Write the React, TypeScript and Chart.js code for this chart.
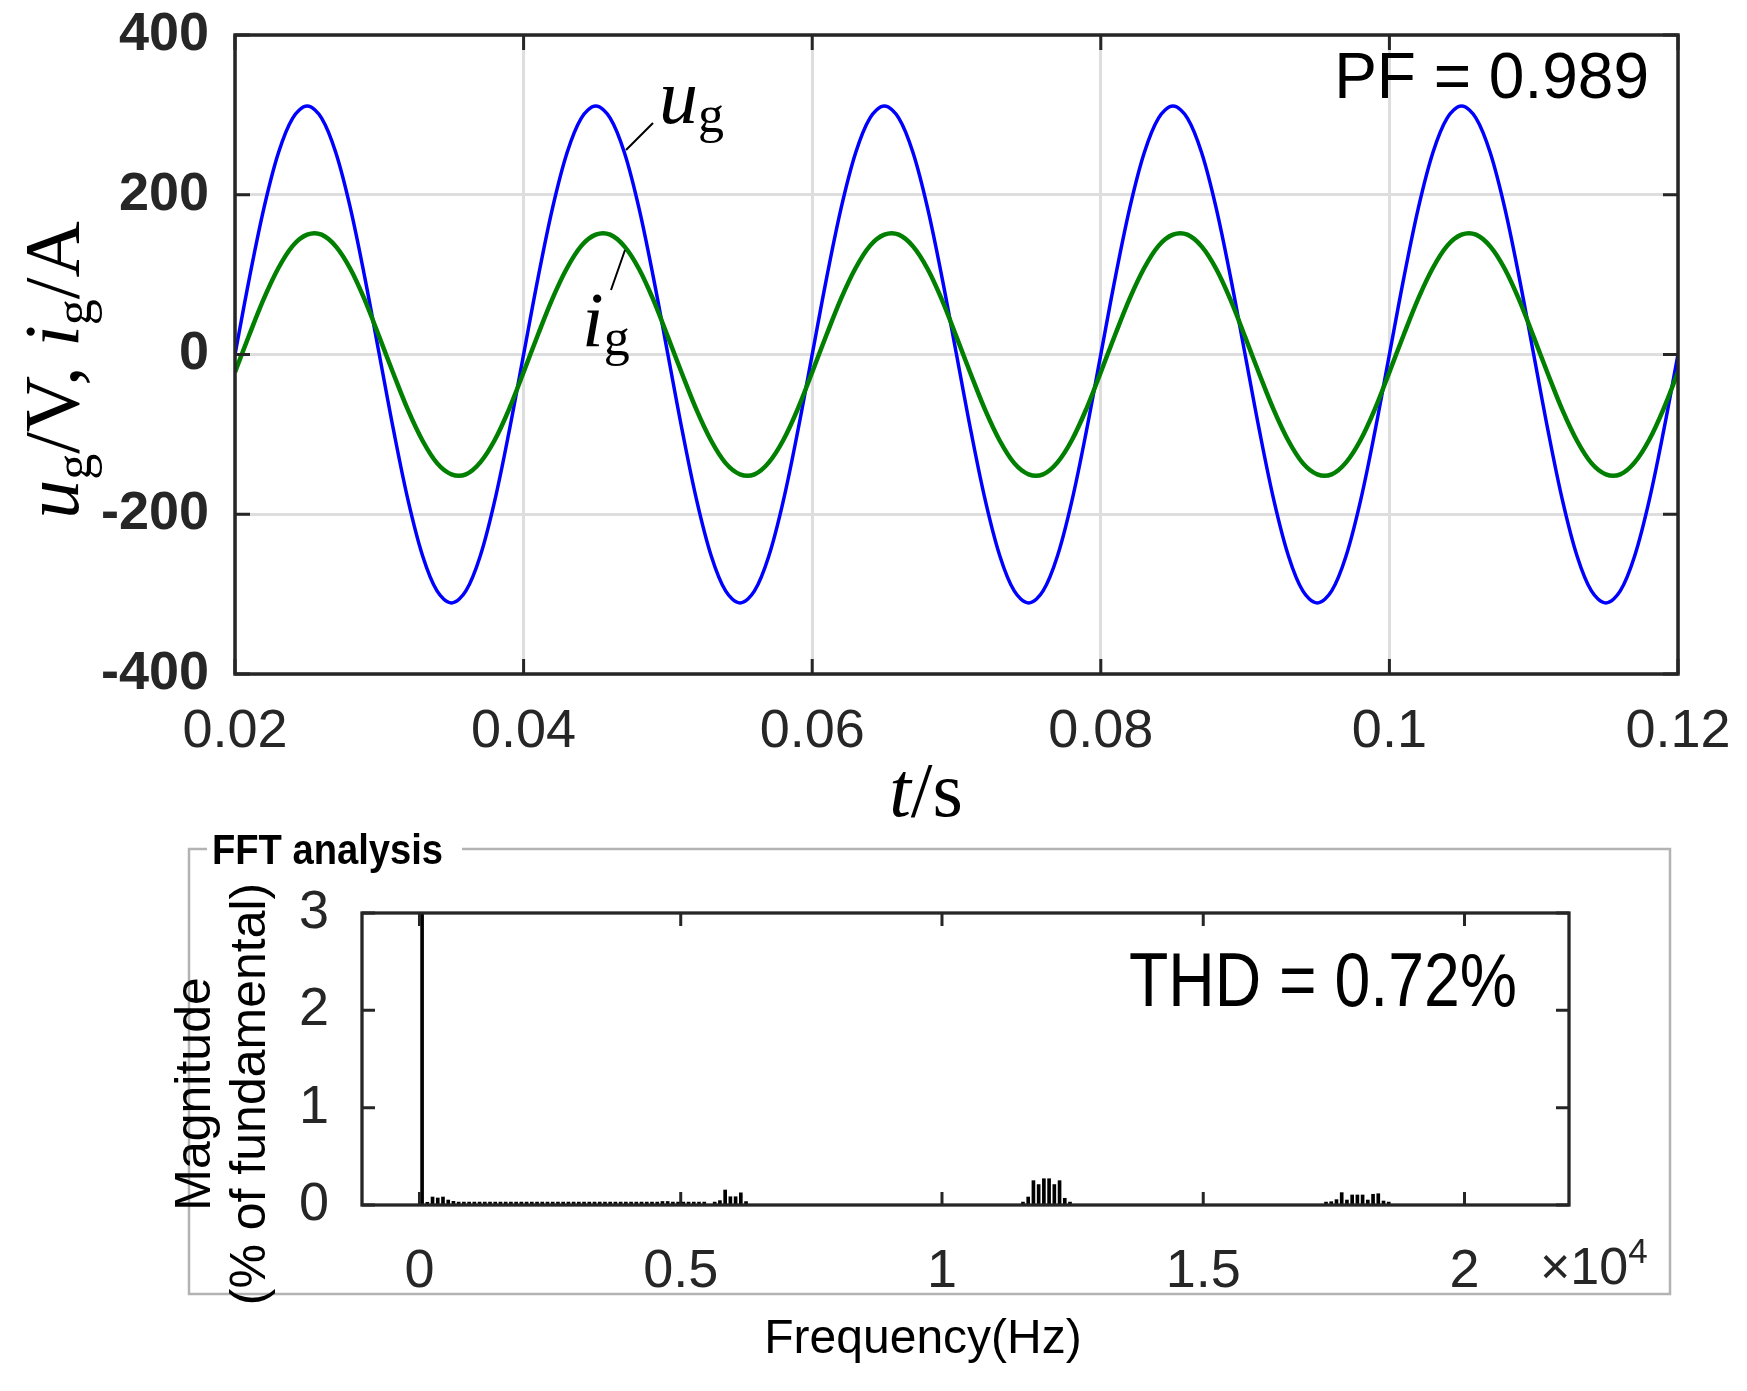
import React, { useEffect, useRef } from 'react';
import { Chart, registerables } from 'chart.js';

Chart.register(...registerables);

const SANS = '"Liberation Sans", Arial, sans-serif';
const SERIF = '"Liberation Serif", "Times New Roman", serif';

// grid voltage / current, sampled every 1 ms
const timeS = [
  0.020, 0.021, 0.022, 0.023, 0.024, 0.025, 0.026, 0.027, 0.028, 0.029,
  0.030, 0.031, 0.032, 0.033, 0.034, 0.035, 0.036, 0.037, 0.038, 0.039,
  0.040, 0.041, 0.042, 0.043, 0.044, 0.045, 0.046, 0.047, 0.048, 0.049,
  0.050, 0.051, 0.052, 0.053, 0.054, 0.055, 0.056, 0.057, 0.058, 0.059,
  0.060, 0.061, 0.062, 0.063, 0.064, 0.065, 0.066, 0.067, 0.068, 0.069,
  0.070, 0.071, 0.072, 0.073, 0.074, 0.075, 0.076, 0.077, 0.078, 0.079,
  0.080, 0.081, 0.082, 0.083, 0.084, 0.085, 0.086, 0.087, 0.088, 0.089,
  0.090, 0.091, 0.092, 0.093, 0.094, 0.095, 0.096, 0.097, 0.098, 0.099,
  0.100, 0.101, 0.102, 0.103, 0.104, 0.105, 0.106, 0.107, 0.108, 0.109,
  0.110, 0.111, 0.112, 0.113, 0.114, 0.115, 0.116, 0.117, 0.118, 0.119,
  0.120,
];

const gridVoltage = [
  0, 96, 183, 252, 296, 311, 296, 252, 183, 96,
  0, -96, -183, -252, -296, -311, -296, -252, -183, -96,
  0, 96, 183, 252, 296, 311, 296, 252, 183, 96,
  0, -96, -183, -252, -296, -311, -296, -252, -183, -96,
  0, 96, 183, 252, 296, 311, 296, 252, 183, 96,
  0, -96, -183, -252, -296, -311, -296, -252, -183, -96,
  0, 96, 183, 252, 296, 311, 296, 252, 183, 96,
  0, -96, -183, -252, -296, -311, -296, -252, -183, -96,
  0, 96, 183, 252, 296, 311, 296, 252, 183, 96,
  0, -96, -183, -252, -296, -311, -296, -252, -183, -96,
  0,
];

const gridCurrent = [
  -22, 25, 70, 108, 136, 150, 150, 135, 107, 68,
  22, -25, -70, -108, -136, -150, -150, -135, -107, -68,
  -22, 25, 70, 108, 136, 150, 150, 135, 107, 68,
  22, -25, -70, -108, -136, -150, -150, -135, -107, -68,
  -22, 25, 70, 108, 136, 150, 150, 135, 107, 68,
  22, -25, -70, -108, -136, -150, -150, -135, -107, -68,
  -22, 25, 70, 108, 136, 150, 150, 135, 107, 68,
  22, -25, -70, -108, -136, -150, -150, -135, -107, -68,
  -22, 25, 70, 108, 136, 150, 150, 135, 107, 68,
  22, -25, -70, -108, -136, -150, -150, -135, -107, -68,
  -22,
];

const timeTicks = [0.02, 0.04, 0.06, 0.08, 0.1, 0.12];
const waveTicks = [-400, -200, 0, 200, 400];

// FFT of i_g, % of the 50 Hz fundamental
const harmonicHz = [
  50, 150, 250, 350, 450, 550, 650, 750,
  850, 950, 1050, 1150, 1250, 1350, 1450, 1550, 1650, 1750,
  1850, 1950, 2050, 2150, 2250, 2350, 2450, 2550, 2650, 2750,
  2850, 2950, 3050, 3150, 3250, 3350, 3450, 3550, 3650, 3750,
  3850, 3950, 4050, 4150, 4250, 4350, 4450, 4550,
  4650, 4750, 4850, 4950, 5050, 5150, 5250, 5350, 5450,
  5650, 5750, 5850, 5950, 6050, 6150, 6250,
  11550, 11650, 11750, 11850, 11950, 12050, 12150, 12250, 12350, 12450,
  17350, 17450, 17550, 17650, 17750, 17850, 17950, 18050, 18150, 18250, 18350, 18450, 18550,
];

const harmonicPct = [
  100, 0.028, 0.082, 0.072, 0.082, 0.051, 0.038, 0.03,
  0.03, 0.03, 0.03, 0.03, 0.03, 0.03, 0.03, 0.03, 0.03, 0.03,
  0.03, 0.03, 0.03, 0.03, 0.03, 0.03, 0.03, 0.03, 0.03, 0.03,
  0.03, 0.03, 0.03, 0.03, 0.03, 0.03, 0.03, 0.03, 0.03, 0.03,
  0.03, 0.03, 0.03, 0.03, 0.03, 0.03, 0.03, 0.03,
  0.036, 0.036, 0.03, 0.03, 0.03, 0.03, 0.03, 0.03, 0.03,
  0.03, 0.045, 0.154, 0.085, 0.085, 0.125, 0.035,
  0.03, 0.082, 0.25, 0.21, 0.27, 0.27, 0.21, 0.25, 0.069, 0.03,
  0.03, 0.034, 0.055, 0.127, 0.051, 0.103, 0.103, 0.103, 0.051, 0.11, 0.116, 0.041, 0.03,
];

const freqTicks = [0, 5000, 10000, 15000, 20000];
const magTicks = [0, 1, 2, 3];

type Run = { text: string; font: string; dy?: number };

function runsWidth(ctx: CanvasRenderingContext2D, runs: Run[]) {
  let w = 0;
  for (const r of runs) {
    ctx.font = r.font;
    w += ctx.measureText(r.text).width;
  }
  return w;
}

function drawRuns(ctx: CanvasRenderingContext2D, runs: Run[], x: number, y: number) {
  let cx = x;
  for (const r of runs) {
    ctx.font = r.font;
    ctx.fillText(r.text, cx, y + (r.dy || 0));
    cx += ctx.measureText(r.text).width;
  }
}

// text squeezed or stretched to a given width
function fitText(ctx: CanvasRenderingContext2D, text: string, font: string, x: number, y: number, width: number) {
  ctx.font = font;
  const w = ctx.measureText(text).width;
  ctx.save();
  ctx.translate(x, y);
  ctx.scale(width / w, 1);
  ctx.fillText(text, 0, 0);
  ctx.restore();
}

// keep tick labels from pushing the plot area around
const noPad = (s: any) => {
  s.paddingTop = 0;
  s.paddingBottom = 0;
  s.paddingLeft = 0;
  s.paddingRight = 0;
};

function drawFrame(chart: any, tickLen: number, frameWidth: number) {
  const { ctx, chartArea: a, scales } = chart;
  ctx.save();
  ctx.strokeStyle = '#262626';
  ctx.lineWidth = 3;
  ctx.beginPath();
  for (const t of scales.x.ticks) {
    const px = scales.x.getPixelForValue(t.value);
    ctx.moveTo(px, a.bottom);
    ctx.lineTo(px, a.bottom - tickLen);
    ctx.moveTo(px, a.top);
    ctx.lineTo(px, a.top + tickLen);
  }
  for (const t of scales.y.ticks) {
    const py = scales.y.getPixelForValue(t.value);
    ctx.moveTo(a.left, py);
    ctx.lineTo(a.left + tickLen, py);
    ctx.moveTo(a.right, py);
    ctx.lineTo(a.right - tickLen, py);
  }
  ctx.stroke();
  ctx.lineWidth = frameWidth;
  ctx.strokeRect(a.left, a.top, a.right - a.left, a.bottom - a.top);
  ctx.restore();
}

const waveDecor = {
  id: 'waveDecor',
  afterDatasetsDraw(chart: any) {
    const ctx: CanvasRenderingContext2D = chart.ctx;
    drawFrame(chart, 15, 3.5);
    ctx.save();
    ctx.fillStyle = '#000';
    ctx.textBaseline = 'alphabetic';

    ctx.textAlign = 'right';
    ctx.font = `64px ${SANS}`;
    ctx.fillText('PF = 0.989', 1649, 98);
    ctx.textAlign = 'left';

    // curve labels with leader lines
    const main = `italic 78px ${SERIF}`;
    const sub = `52px ${SERIF}`;
    drawRuns(ctx, [{ text: 'u', font: main }, { text: 'g', font: sub, dy: 9 }], 659, 123);
    drawRuns(ctx, [{ text: 'i', font: main }, { text: 'g', font: sub, dy: 9 }], 582, 346);
    ctx.strokeStyle = '#000';
    ctx.lineWidth = 2;
    ctx.beginPath();
    ctx.moveTo(626, 150);
    ctx.lineTo(653, 123);
    ctx.moveTo(625, 250);
    ctx.lineTo(611, 290);
    ctx.stroke();

    // axis titles
    const roman = `78px ${SERIF}`;
    const yTitle: Run[] = [
      { text: 'u', font: main },
      { text: 'g', font: sub, dy: 13 },
      { text: '/V, ', font: roman },
      { text: 'i', font: main },
      { text: 'g', font: sub, dy: 13 },
      { text: '/A', font: roman },
    ];
    ctx.save();
    ctx.translate(78, 370);
    ctx.rotate(-Math.PI / 2);
    drawRuns(ctx, yTitle, -runsWidth(ctx, yTitle) / 2, 0);
    ctx.restore();

    const xTitle: Run[] = [
      { text: 't', font: main },
      { text: '/s', font: roman },
    ];
    drawRuns(ctx, xTitle, 926 - runsWidth(ctx, xTitle) / 2, 816);
    ctx.restore();
  },
};

const fftDecor = {
  id: 'fftDecor',
  beforeDraw(chart: any) {
    const ctx: CanvasRenderingContext2D = chart.ctx;
    ctx.save();
    ctx.strokeStyle = '#b3b3b3';
    ctx.lineWidth = 2.5;
    ctx.beginPath();
    ctx.moveTo(207, 19);
    ctx.lineTo(189, 19);
    ctx.lineTo(189, 464);
    ctx.lineTo(1670, 464);
    ctx.lineTo(1670, 19);
    ctx.lineTo(462, 19);
    ctx.stroke();
    ctx.restore();
  },
  afterDatasetsDraw(chart: any) {
    const ctx: CanvasRenderingContext2D = chart.ctx;
    drawFrame(chart, 13, 3.3);
    ctx.save();
    ctx.fillStyle = '#000';
    ctx.textBaseline = 'alphabetic';
    ctx.textAlign = 'left';

    fitText(ctx, 'FFT analysis', `bold 42px ${SANS}`, 212, 34, 231);
    fitText(ctx, 'THD = 0.72%', `76px ${SANS}`, 1129, 176, 388);

    ctx.fillStyle = '#262626';
    drawRuns(ctx, [
      { text: '\u00d710', font: `52px ${SANS}` },
      { text: '4', font: `35px ${SANS}`, dy: -21 },
    ], 1540, 454);

    ctx.fillStyle = '#000';
    ctx.textAlign = 'center';
    ctx.font = `48px ${SANS}`;
    ctx.fillText('Frequency(Hz)', 923, 523);
    ctx.save();
    ctx.translate(0, 264);
    ctx.rotate(-Math.PI / 2);
    ctx.font = `50px ${SANS}`;
    ctx.fillText('Magnitude', 0, 210);
    ctx.fillText('(% of fundamental)', 0, 265);
    ctx.restore();
    ctx.restore();
  },
};

export default function App() {
  const waveRef = useRef<HTMLCanvasElement>(null);
  const fftRef = useRef<HTMLCanvasElement>(null);

  useEffect(() => {
    if (!waveRef.current || !fftRef.current) return;

    const wave = new Chart(waveRef.current, {
      type: 'line',
      data: {
        datasets: [
          {
            label: 'i_g',
            data: timeS.map((t, i) => ({ x: t, y: gridCurrent[i] })),
            borderColor: '#007f00',
            borderWidth: 4.5,
            pointRadius: 0,
            tension: 0.35,
            fill: false,
            clip: 0,
            order: 0,
          },
          {
            label: 'u_g',
            data: timeS.map((t, i) => ({ x: t, y: gridVoltage[i] })),
            borderColor: '#0000ff',
            borderWidth: 3.5,
            pointRadius: 0,
            tension: 0.35,
            fill: false,
            clip: 0,
            order: 1,
          },
        ],
      },
      options: {
        animation: false,
        responsive: false,
        devicePixelRatio: 1,
        events: [],
        layout: { padding: { left: 0, top: 35, right: 69, bottom: 0 } },
        plugins: { legend: { display: false }, tooltip: { enabled: false } },
        scales: {
          x: {
            type: 'linear',
            min: 0.02,
            max: 0.12,
            afterBuildTicks: (s: any) => { s.ticks = timeTicks.map(v => ({ value: v })); },
            afterFit: (s: any) => { s.height = 156; noPad(s); },
            border: { display: false },
            grid: { color: '#dedede', lineWidth: 3, drawTicks: false },
            ticks: {
              padding: 26,
              color: '#262626',
              maxRotation: 0,
              autoSkip: false,
              font: { family: SANS, size: 54 },
              callback: (v: any) => String(v),
            },
          },
          y: {
            type: 'linear',
            min: -400,
            max: 400,
            afterBuildTicks: (s: any) => { s.ticks = waveTicks.map(v => ({ value: v })); },
            afterFit: (s: any) => { s.width = 235; noPad(s); },
            border: { display: false },
            grid: { color: '#dedede', lineWidth: 3, drawTicks: false },
            ticks: {
              padding: 26,
              color: '#262626',
              font: { family: SANS, size: 54, weight: 'bold' },
              callback: (v: any) => String(v),
            },
          },
        },
      },
      plugins: [waveDecor],
    } as any);

    const fft = new Chart(fftRef.current, {
      type: 'bar',
      data: {
        datasets: [
          {
            label: 'FFT',
            data: harmonicHz.map((f, i) => ({ x: f, y: harmonicPct[i] })),
            backgroundColor: '#000',
            borderWidth: 0,
            barThickness: 3,
            clip: 0,
          },
        ],
      },
      options: {
        animation: false,
        responsive: false,
        devicePixelRatio: 1,
        events: [],
        layout: { padding: { left: 0, top: 83, right: 178, bottom: 0 } },
        plugins: { legend: { display: false }, tooltip: { enabled: false } },
        scales: {
          x: {
            type: 'linear',
            min: -1100,
            max: 22000,
            offset: false,
            afterBuildTicks: (s: any) => { s.ticks = freqTicks.map(v => ({ value: v })); },
            afterFit: (s: any) => { s.height = 186; noPad(s); },
            border: { display: false },
            grid: { display: false },
            ticks: {
              padding: 27,
              color: '#262626',
              maxRotation: 0,
              autoSkip: false,
              font: { family: SANS, size: 54 },
              callback: (v: any) => String(v / 10000),
            },
          },
          y: {
            type: 'linear',
            min: 0,
            max: 3,
            afterBuildTicks: (s: any) => { s.ticks = magTicks.map(v => ({ value: v })); },
            afterFit: (s: any) => { s.width = 362; noPad(s); },
            border: { display: false },
            grid: { display: false },
            ticks: {
              padding: 25,
              color: '#262626',
              font: { family: SANS, size: 54 },
              callback: (v: any) => String(v),
            },
          },
        },
      },
      plugins: [fftDecor],
    } as any);

    return () => {
      wave.destroy();
      fft.destroy();
    };
  }, []);

  return (
    <div style={{ position: 'absolute', left: 0, top: 0, width: 1747, height: 1391, background: '#fff' }}>
      <canvas
        ref={waveRef}
        width={1747}
        height={830}
        style={{ position: 'absolute', left: 0, top: 0, width: 1747, height: 830 }}
      />
      <canvas
        ref={fftRef}
        width={1747}
        height={561}
        style={{ position: 'absolute', left: 0, top: 830, width: 1747, height: 561 }}
      />
    </div>
  );
}
